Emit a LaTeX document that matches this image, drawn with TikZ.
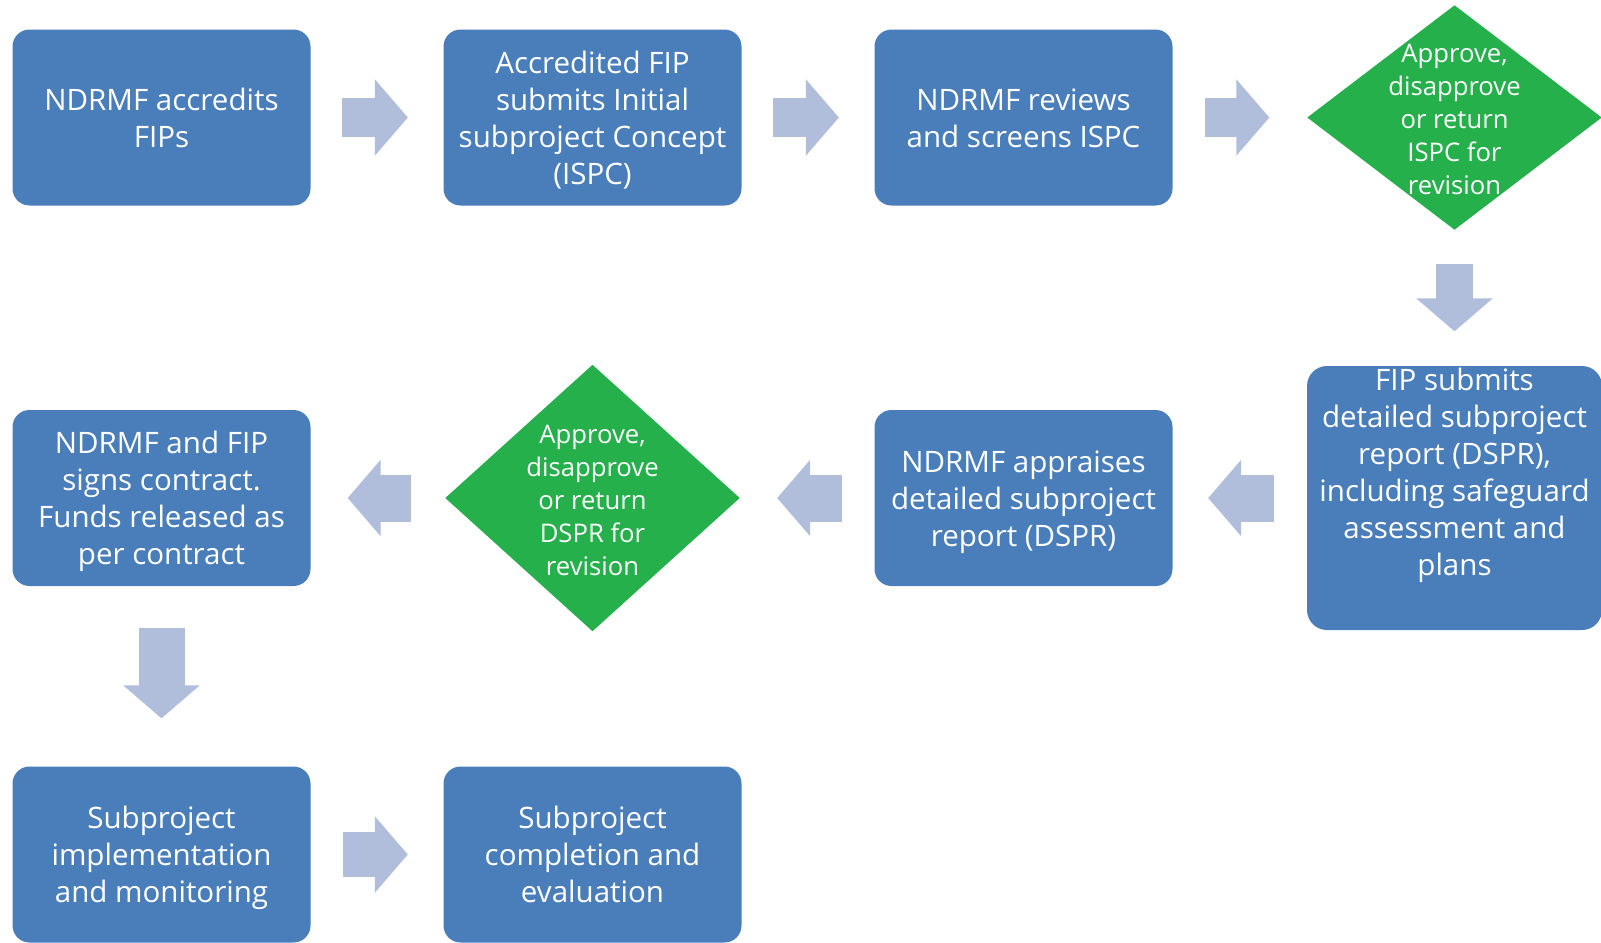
\documentclass[tikz,border=0pt]{standalone}
\usepackage{fontspec}
\setmainfont{Open Sans}
\usetikzlibrary{shapes.geometric,arrows.meta}
\definecolor{boxblue}{RGB}{74,126,187}
\definecolor{stepgreen}{RGB}{38,176,76}
\definecolor{arrowblue}{RGB}{176,190,220}
\newcommand{\linebox}{\rule[-2pt]{0pt}{10.4pt}}

\begin{document}
\begin{tikzpicture}[x=0.1mm, y=-0.1mm, node distance=43.1mm,
    main node/.style={rectangle, rounded corners=1.7mm, fill=boxblue, text=white, align=center,
      minimum width=29.8mm, minimum height=17.6mm, inner sep=0pt},
    decision/.style={diamond, fill=stepgreen, minimum width=29.5mm, inner sep=0pt},
    inner text/.style={text=white, align=center},
    decision text/.style={inner text, font=\fontsize{7.3}{9.4}\selectfont},
    fat arrow/.style={draw=arrowblue, line width=#1,
      -{Triangle[length=3.3mm, width=7.6mm, line width=0.3mm]}}]
  \tikzstyle{every node}=[font=\fontsize{8.4}{10.5}\selectfont, execute at end node=\linebox]
  \useasboundingbox (0,0) rectangle (1601,942);

  % first row
  \node[main node] (1) at (161.5,117.5) {\linebox NDRMF accredits\\FIPs};
  \node[main node] (2) [right of=1] {\linebox Accredited FIP\\submits Initial\\subproject Concept\\(ISPC)};
  \node[main node] (3) [right of=2] {\linebox NDRMF reviews\\and screens ISPC};
  \node[decision, minimum height=22.5mm,
    label={[decision text]center:{\linebox Approve,\\disapprove\\or return\\ISPC for\\revision}}]
    (4) [right of=3] {};

  % second row, right to left
  \node[main node, minimum width=29.5mm, minimum height=26.4mm, rounded corners=2mm,
    label={[inner text, yshift=2.6mm]center:{\linebox FIP submits\\detailed subproject\\report (DSPR),\\including safeguard\\assessment and\\plans}}]
    (5) [node distance=38.05mm, below of=4] {};
  \node[main node] (6) [left of=5] {\linebox NDRMF appraises\\detailed subproject\\report (DSPR)};
  \node[decision, minimum height=26.7mm,
    label={[decision text]center:{\linebox Approve,\\disapprove\\or return\\DSPR for\\revision}}]
    (7) [left of=6] {};
  \node[main node] (8) [left of=7] {\linebox NDRMF and FIP\\signs contract.\\Funds released as\\per contract};

  % last row
  \node[main node] (9) [node distance=35.65mm, below of=8] {\linebox Subproject\\implementation\\and monitoring};
  \node[main node] (10) [right of=9] {\linebox Subproject\\completion and\\evaluation};

  \path
    (1) edge[fat arrow=3.9mm, shorten <=3.1mm, shorten >=3.5mm] (2)
    (2) edge[fat arrow=3.9mm, shorten <=3.1mm, shorten >=3.5mm] (3)
    (3) edge[fat arrow=3.9mm, shorten <=3.2mm, shorten >=3.7mm] (4)
    (4) edge[fat arrow=3.7mm, shorten <=3.3mm, shorten >=3.4mm] (5)
    (5) edge[fat arrow=4.7mm, shorten <=3.25mm, shorten >=3.5mm] (6)
    (6) edge[fat arrow=4.7mm, shorten <=3.2mm, shorten >=3.65mm] (7)
    (7) edge[fat arrow=4.7mm, shorten <=3.35mm, shorten >=3.65mm] (8)
    (8) edge[fat arrow=4.6mm, shorten <=4.1mm, shorten >=4.75mm] (9)
    (9) edge[fat arrow=4.5mm, shorten <=3.15mm, shorten >=3.5mm] (10);
\end{tikzpicture}
\end{document}
